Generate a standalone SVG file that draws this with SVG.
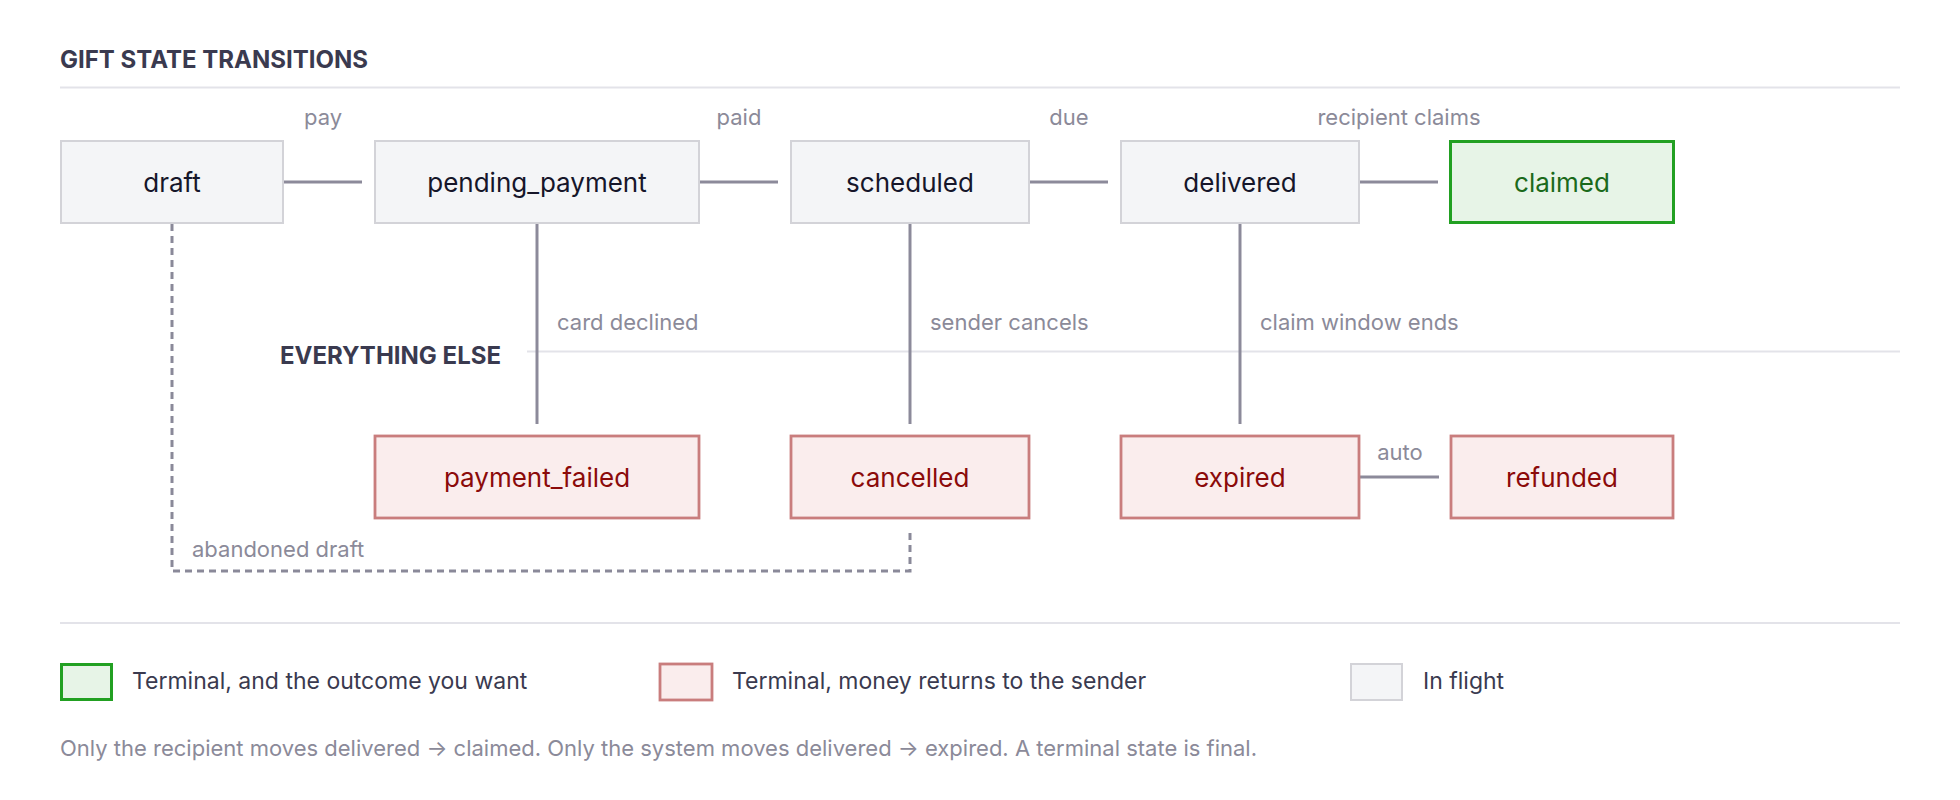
<svg xmlns="http://www.w3.org/2000/svg" width="1960" height="800" viewBox="0 0 1960 800">
<style>
text{font-family:Inter,"Liberation Sans",sans-serif}
.h{font-size:24px;font-weight:700;fill:#3a3a4f}
.lbl{font-size:22px;fill:#8b8a99}
.nt{font-size:26px;text-anchor:middle}
.fl .box{fill:#f4f5f7;stroke:#d3d3d8;stroke-width:2}
.fl text{fill:#16162a}
.ok .box{fill:#e7f4e7;stroke:#22a022;stroke-width:3}
.ok text{fill:#1b6a1b}
.bad .box{fill:#faeded;stroke:#c97d7d;stroke-width:2.8}
.bad text{fill:#8b0a0a}
.div{stroke:#e3e3e9;stroke-width:2}
.c{stroke:#8c8a9a;stroke-width:3;fill:none}
.d{stroke:#8a8999;stroke-width:3;fill:none;stroke-dasharray:7 5}
.lg{font-size:23px;fill:#3a3a4f}
.fn{font-size:22px;fill:#8b8a99}
</style>
<rect width="1960" height="800" fill="#ffffff"/>
<text class="h" x="60" y="68">GIFT STATE TRANSITIONS</text>
<line class="div" x1="60" y1="87.5" x2="1900" y2="87.5"/>
<line class="div" x1="527" y1="351.5" x2="1900" y2="351.5"/>
<text class="h" x="501" y="364" text-anchor="end">EVERYTHING ELSE</text>
<line class="div" x1="60" y1="623" x2="1900" y2="623"/>

<g id="connectors">
<line class="c" x1="284" y1="182" x2="362" y2="182"/>
<line class="c" x1="700" y1="182" x2="778" y2="182"/>
<line class="c" x1="1030" y1="182" x2="1108" y2="182"/>
<line class="c" x1="1360" y1="182" x2="1438" y2="182"/>
<line class="c" x1="537" y1="224" x2="537" y2="424"/>
<line class="c" x1="910" y1="224" x2="910" y2="424"/>
<line class="c" x1="1240" y1="224" x2="1240" y2="424"/>
<line class="c" x1="1360" y1="477" x2="1439" y2="477"/>
<path class="d" d="M172 224 V571 H910 V531"/>
<text class="lbl" x="323" y="125" text-anchor="middle">pay</text>
<text class="lbl" x="739" y="125" text-anchor="middle">paid</text>
<text class="lbl" x="1069" y="125" text-anchor="middle">due</text>
<text class="lbl" x="1399" y="125" text-anchor="middle">recipient claims</text>
<text class="lbl" x="557" y="330">card declined</text>
<text class="lbl" x="930" y="330">sender cancels</text>
<text class="lbl" x="1260" y="330">claim window ends</text>
<text class="lbl" x="1400" y="460" text-anchor="middle">auto</text>
<text class="lbl" x="192" y="557">abandoned draft</text>
</g>

<g id="draft" class="fl"><rect class="box" x="61" y="141" width="222" height="82"/><text class="nt" x="172" y="192">draft</text></g>
<g id="pending_payment" class="fl"><rect class="box" x="375" y="141" width="324" height="82"/><text class="nt" x="537" y="192">pending_payment</text></g>
<g id="scheduled" class="fl"><rect class="box" x="791" y="141" width="238" height="82"/><text class="nt" x="910" y="192">scheduled</text></g>
<g id="delivered" class="fl"><rect class="box" x="1121" y="141" width="238" height="82"/><text class="nt" x="1240" y="192">delivered</text></g>
<g id="claimed" class="ok"><rect class="box" x="1450.5" y="141.5" width="223" height="81"/><text class="nt" x="1562" y="192">claimed</text></g>

<g id="payment_failed" class="bad"><rect class="box" x="375" y="436" width="324" height="82"/><text class="nt" x="537" y="487">payment_failed</text></g>
<g id="cancelled" class="bad"><rect class="box" x="791" y="436" width="238" height="82"/><text class="nt" x="910" y="487">cancelled</text></g>
<g id="expired" class="bad"><rect class="box" x="1121" y="436" width="238" height="82"/><text class="nt" x="1240" y="487">expired</text></g>
<g id="refunded" class="bad"><rect class="box" x="1451" y="436" width="222" height="82"/><text class="nt" x="1562" y="487">refunded</text></g>

<g id="legend">
<g class="ok"><rect class="box" x="61.5" y="664.5" width="50" height="35"/></g>
<text class="lg" x="132" y="689">Terminal, and the outcome you want</text>
<g class="bad"><rect class="box" x="660" y="664" width="52" height="36"/></g>
<text class="lg" x="732" y="689">Terminal, money returns to the sender</text>
<g class="fl"><rect class="box" x="1351" y="664" width="51" height="36"/></g>
<text class="lg" x="1423" y="689">In flight</text>
</g>
<text class="fn" x="60" y="756">Only the recipient moves delivered → claimed. Only the system moves delivered → expired. A terminal state is final.</text>
</svg>
